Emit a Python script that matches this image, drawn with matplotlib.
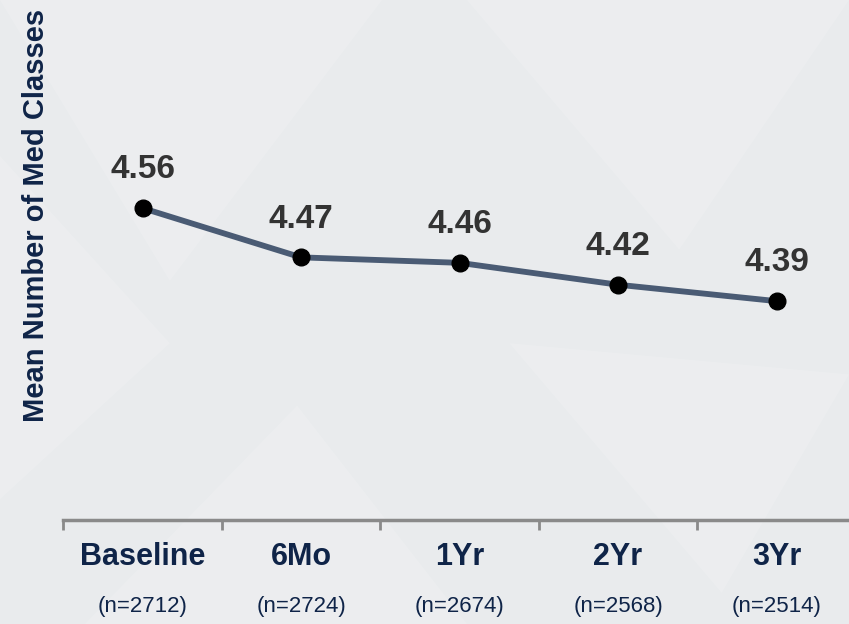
import matplotlib
matplotlib.use("Agg")
import matplotlib.pyplot as plt
from matplotlib.patches import Polygon
from matplotlib.transforms import blended_transform_factory

categories = ["Baseline", "6Mo", "1Yr", "2Yr", "3Yr"]
sample_sizes = ["(n=2712)", "(n=2724)", "(n=2674)", "(n=2568)", "(n=2514)"]
values = [4.56, 4.47, 4.46, 4.42, 4.39]

navy = "#0f2448"
dpi = 100
fig = plt.figure(figsize=(8.49, 6.24), dpi=dpi)
fig.patch.set_facecolor("#e9ebed")

# faint background triangle texture, in a background axes
bg = fig.add_axes([0, 0, 1, 1], zorder=-10)
bg.set_xlim(0, 1)
bg.set_ylim(0, 1)
bg.axis("off")
tris = [
    [(0.0, 1.0), (0.45, 1.0), (0.2, 0.55)],
    [(0.0, 0.75), (0.2, 0.45), (0.0, 0.2)],
    [(0.55, 1.0), (1.0, 1.0), (0.8, 0.6)],
    [(0.1, 0.0), (0.35, 0.35), (0.55, 0.0)],
    [(0.6, 0.45), (0.85, 0.05), (1.0, 0.4)],
]
for t in tris:
    bg.add_patch(Polygon(t, closed=True, facecolor="white", alpha=0.14, edgecolor="none"))

ax = fig.add_axes([0.0745, 0.1667, 0.9335, 0.79])
ax.set_facecolor("none")
x = list(range(len(categories)))
ax.plot(x, values, color="#4a5b74", lw=4.2, zorder=2, solid_capstyle="round")
ax.plot(x, values, "o", color="black", ms=12, zorder=3)

ax.set_xlim(-0.5, 4.5)
ax.set_ylim(3.99, 4.891)

for s in ["top", "right", "left"]:
    ax.spines[s].set_visible(False)
ax.spines["bottom"].set_color("#8a8a8a")
ax.spines["bottom"].set_linewidth(2.5)
ax.set_yticks([])
ax.set_xticks([i - 0.5 for i in range(len(categories) + 1)])
ax.set_xticklabels([])
ax.tick_params(axis="x", direction="out", length=7, width=2, color="#8a8a8a")

for xi, v in zip(x, values):
    ax.annotate(f"{v:.2f}", (xi, v), xytext=(0, 27.5), textcoords="offset points",
                ha="center", va="center", fontsize=24, fontweight="bold",
                color="#333333", family=["Liberation Sans", "DejaVu Sans"])

trans = blended_transform_factory(ax.transData, ax.transAxes)
for xi, c, n in zip(x, categories, sample_sizes):
    ax.annotate(c, (xi, 0), xycoords=trans, xytext=(0, -26.5), textcoords="offset points",
                ha="center", va="center", fontsize=22, fontweight="bold", color=navy,
                family=["Liberation Sans", "DejaVu Sans"],
                annotation_clip=False)
    ax.annotate(n, (xi, 0), xycoords=trans, xytext=(0, -62), textcoords="offset points",
                ha="center", va="center", fontsize=16, color=navy,
                family=["Liberation Sans", "DejaVu Sans"],
                annotation_clip=False)

fig.text(36 / 849, 1 - 215 / 624, "Mean Number of Med Classes", rotation=90,
         ha="center", va="center", fontsize=21, fontweight="bold", color=navy,
         family=["Liberation Sans", "DejaVu Sans"])

fig.savefig("out.png", dpi=dpi, facecolor=fig.get_facecolor())
